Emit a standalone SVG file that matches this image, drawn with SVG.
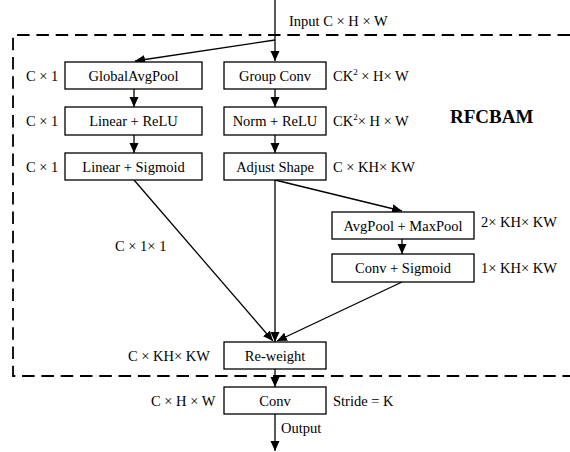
<svg xmlns="http://www.w3.org/2000/svg" width="570" height="452" viewBox="0 0 570 452">
<defs>
<marker id="ah" markerWidth="10" markerHeight="10" viewBox="0 0 10 10" refX="10" refY="5" orient="auto" markerUnits="userSpaceOnUse">
<path d="M0,0.5 L10,5 L0,9.5 Z" fill="#000"/>
</marker>
<style>
.box{fill:#fff;stroke:#000;stroke-width:1.3}
.t{font-family:"Liberation Serif","Times New Roman",serif;font-size:14.5px;fill:#000}
.c{text-anchor:middle}
.ln{stroke:#000;stroke-width:1.3;fill:none}
.dash{stroke:#000;stroke-width:1.8;fill:none;stroke-dasharray:12.5 6.8}
</style>
</defs>
<rect width="570" height="452" fill="#fff"/>
<path class="dash" d="M570,35 H13 V376 H570"/>
<text class="t" x="450" y="123" style="font-weight:bold;font-size:19px">RFCBAM</text>
<g id="connectors">
<line class="ln" x1="275" y1="0" x2="275" y2="61" marker-end="url(#ah)"/>
<line class="ln" x1="275" y1="40" x2="135" y2="61" marker-end="url(#ah)"/>
<line class="ln" x1="134" y1="89" x2="134" y2="107" marker-end="url(#ah)"/>
<line class="ln" x1="134" y1="135" x2="134" y2="153" marker-end="url(#ah)"/>
<line class="ln" x1="275" y1="89" x2="275" y2="107" marker-end="url(#ah)"/>
<line class="ln" x1="275" y1="135" x2="275" y2="153" marker-end="url(#ah)"/>
<line class="ln" x1="275" y1="180" x2="402" y2="211" marker-end="url(#ah)"/>
<line class="ln" x1="402" y1="239" x2="402" y2="254" marker-end="url(#ah)"/>
<line class="ln" x1="134" y1="180" x2="273" y2="341" marker-end="url(#ah)"/>
<line class="ln" x1="275" y1="180" x2="275" y2="342" marker-end="url(#ah)"/>
<line class="ln" x1="402" y1="282" x2="277" y2="341" marker-end="url(#ah)"/>
<line class="ln" x1="275" y1="369" x2="275" y2="387" marker-end="url(#ah)"/>
<line class="ln" x1="275" y1="414" x2="275" y2="451" marker-end="url(#ah)"/>
</g>
<g id="input-label"><text class="t" x="289" y="26">Input  C × H × W</text></g>
<g id="gap"><rect class="box" x="65" y="62" width="137" height="27"/><text class="t c" x="133.5" y="80.5">GlobalAvgPool</text><text class="t" x="26" y="80.5">C × 1</text></g>
<g id="lin-relu"><rect class="box" x="65" y="107" width="137" height="28"/><text class="t c" x="133.5" y="126">Linear + ReLU</text><text class="t" x="26" y="126">C × 1</text></g>
<g id="lin-sig"><rect class="box" x="65" y="153" width="137" height="27"/><text class="t c" x="133.5" y="171.5">Linear + Sigmoid</text><text class="t" x="26" y="171.5">C × 1</text></g>
<g id="gconv"><rect class="box" x="224" y="62" width="102" height="27"/><text class="t c" x="275" y="80.5">Group Conv</text><text class="t" x="333" y="80.5">CK<tspan dy="-6" font-size="9">2</tspan><tspan dy="6"> × H× W</tspan></text></g>
<g id="norm"><rect class="box" x="224" y="107" width="102" height="28"/><text class="t c" x="275" y="126">Norm + ReLU</text><text class="t" x="333" y="126">CK<tspan dy="-6" font-size="9">2</tspan><tspan dy="6">× H × W</tspan></text></g>
<g id="adjust"><rect class="box" x="224" y="153" width="102" height="27"/><text class="t c" x="275" y="171.5">Adjust Shape</text><text class="t" x="333" y="171.5">C × KH× KW</text></g>
<g id="pool"><rect class="box" x="332" y="212" width="142" height="27"/><text class="t c" x="403" y="230.5">AvgPool + MaxPool</text><text class="t" x="481" y="227">2× KH× KW</text></g>
<g id="convsig"><rect class="box" x="332" y="254" width="142" height="28"/><text class="t c" x="403" y="273">Conv + Sigmoid</text><text class="t" x="481" y="273">1× KH× KW</text></g>
<g id="c11-label"><text class="t" x="115" y="251">C × 1× 1</text></g>
<g id="reweight"><rect class="box" x="224" y="342" width="102" height="27"/><text class="t c" x="275" y="360.5">Re-weight</text><text class="t" x="128" y="360.5">C × KH× KW</text></g>
<g id="conv"><rect class="box" x="224" y="387" width="102" height="27"/><text class="t c" x="275" y="405.5">Conv</text><text class="t" x="151" y="405.5">C × H × W</text><text class="t" x="333" y="405.5">Stride = K</text></g>
<g id="output-label"><text class="t" x="281" y="433">Output</text></g>
</svg>
